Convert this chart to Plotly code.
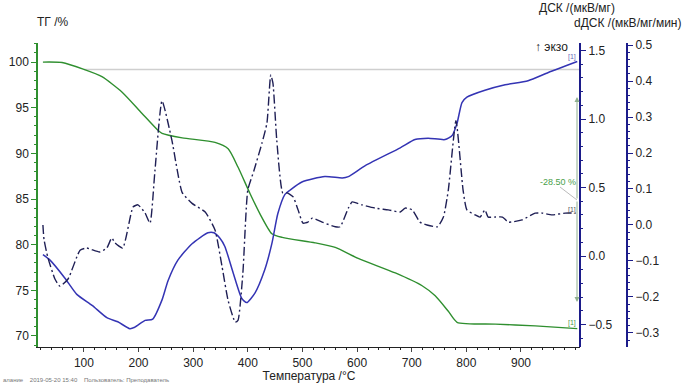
import plotly.graph_objects as go

# ---- data ----
tg_T = [25, 60, 100, 133, 170, 206, 236, 243, 280, 340, 364, 382, 404, 422, 444, 463, 523, 560, 602, 670, 719, 743, 767, 783, 853, 926, 1003]
tg_V = [100.0, 99.95, 99.2, 98.4, 96.7, 94.4, 92.5, 92.2, 91.7, 91.2, 90.5, 88.5, 85.6, 83.4, 81.2, 80.8, 80.2, 79.7, 78.5, 76.9, 75.5, 74.4, 72.7, 71.5, 71.3, 71.1, 70.8]

dsc_T = [25, 38, 65, 87, 115, 142, 162, 184, 193, 212, 226, 243, 254, 272, 298, 327, 338, 349, 358, 373, 389, 398, 413, 431, 444, 455, 468, 477, 499, 541, 573, 584, 615, 679, 706, 730, 761, 774, 783, 792, 801, 834, 871, 913, 950, 1003]
dsc_V = [0.01, -0.03, -0.16, -0.28, -0.36, -0.45, -0.48, -0.53, -0.52, -0.47, -0.46, -0.32, -0.18, -0.03, 0.09, 0.17, 0.17, 0.13, 0.07, -0.12, -0.31, -0.34, -0.27, -0.10, 0.09, 0.31, 0.45, 0.48, 0.54, 0.58, 0.57, 0.58, 0.66, 0.79, 0.85, 0.86, 0.85, 0.88, 0.97, 1.12, 1.16, 1.21, 1.25, 1.28, 1.34, 1.42]

ddsc_T = [25, 27, 34, 47, 56, 71, 93, 105, 129, 142, 151, 157, 171, 190, 199, 212, 221, 230, 243, 261, 280, 298, 322, 340, 353, 364, 377, 382, 391, 400, 411, 426, 435, 442, 446, 453, 464, 472, 483, 492, 501, 510, 518, 536, 560, 569, 584, 591, 609, 633, 657, 679, 688, 701, 715, 728, 747, 758, 767, 781, 794, 801, 816, 825, 834, 840, 853, 866, 877, 902, 926, 939, 957, 981, 1000]
ddsc_V = [0.0, -0.04, -0.09, -0.15, -0.17, -0.15, -0.07, -0.064, -0.075, -0.064, -0.036, -0.05, -0.064, 0.05, 0.056, 0.033, 0.005, 0.15, 0.345, 0.236, 0.09, 0.06, 0.036, -0.014, -0.117, -0.21, -0.27, -0.265, -0.133, 0.097, 0.15, 0.228, 0.283, 0.417, 0.394, 0.236, 0.089, 0.089, 0.078, 0.042, 0.005, 0.008, 0.019, 0.008, -0.005, -0.005, 0.047, 0.064, 0.056, 0.047, 0.042, 0.036, 0.047, 0.042, 0.008, 0.0, -0.005, 0.022, 0.097, 0.29, 0.097, 0.042, 0.028, 0.022, 0.042, 0.022, 0.022, 0.022, 0.008, 0.014, 0.033, 0.033, 0.028, 0.033, 0.033]

x_ticks = [100, 200, 300, 400, 500, 600, 700, 800, 900]
tg_ticks = [70, 75, 80, 85, 90, 95, 100]
dsc_ticks = [-0.5, 0.0, 0.5, 1.0, 1.5]
ddsc_ticks = [-0.3, -0.2, -0.1, 0.0, 0.1, 0.2, 0.3, 0.4, 0.5]

ref_T = [100, 1008]
ref_V = [99.2, 99.2]
mass_change = "-28.50 %"

# ---- geometry ----
W, H = 685, 391
L, R_OUT, T_TOP, B = 38, 627, 43, 347
XR = 580
pw, ph = R_OUT - L, B - T_TOP
dom = (XR - L) / pw

def px(xp):
    return (xp - L) / pw

def py(yp):
    return (B - yp) / ph

GREEN = "#2f8f2f"
BLUE = "#3434b4"
NAVY = "#1f1f55"
AXBLUE = "#1c1c8a"
FONT = "Liberation Sans, Arial, sans-serif"

fig = go.Figure()

fig.add_trace(go.Scatter(x=ref_T, y=ref_V, mode="lines", line=dict(color="#cfcfcf", width=1.5),
                         xaxis="x", yaxis="y", hoverinfo="skip"))
fig.add_trace(go.Scatter(x=tg_T, y=tg_V, mode="lines", line=dict(color=GREEN, width=1.4, shape="spline", smoothing=0.6),
                         xaxis="x", yaxis="y", name="TG"))
fig.add_trace(go.Scatter(x=dsc_T, y=dsc_V, mode="lines", line=dict(color=BLUE, width=1.5, shape="spline", smoothing=0.6),
                         xaxis="x", yaxis="y2", name="DSC"))
fig.add_trace(go.Scatter(x=ddsc_T, y=ddsc_V, mode="lines",
                         line=dict(color=NAVY, width=1.4, dash="9px,3px,2px,3px", shape="spline", smoothing=0.5),
                         xaxis="x", yaxis="y3", name="dDSC"))

fig.update_layout(
    width=W, height=H,
    margin=dict(l=L, r=W - R_OUT, t=T_TOP, b=H - B, autoexpand=False),
    paper_bgcolor="white", plot_bgcolor="white",
    showlegend=False,
    font=dict(family=FONT, size=12, color="#222"),
    xaxis=dict(domain=[0, dom], range=[16, 1008], tickvals=x_ticks, ticks="outside", ticklen=4,
               automargin=False,
               showline=True, linecolor="#222", linewidth=1.2, showgrid=False, zeroline=False,
               minor=dict(dtick=20, ticks="outside", ticklen=2, tickcolor="#222"),
               title=dict(text="Температура /°C", font=dict(size=12), standoff=0),
               tickfont=dict(size=12)),
    yaxis=dict(range=[68.79, 102.09], tickvals=tg_ticks, ticks="outside", ticklen=5, automargin=False,
               showline=True, linecolor=GREEN, linewidth=1.5, tickcolor=GREEN, showgrid=False, zeroline=False,
               minor=dict(dtick=1, ticks="outside", ticklen=2, tickcolor=GREEN),
               tickfont=dict(size=12)),
    yaxis2=dict(range=[-0.664, 1.555], tickvals=dsc_ticks, tickformat=".1f", overlaying="y", side="right",
                anchor="free", position=dom, ticks="outside", ticklen=5, automargin=False,
                showline=True, linecolor=AXBLUE, linewidth=2, tickcolor=AXBLUE, showgrid=False, zeroline=False,
                minor=dict(dtick=0.1, ticks="outside", ticklen=2, tickcolor=AXBLUE),
                tickfont=dict(size=12)),
    yaxis3=dict(range=[-0.339, 0.5056], tickvals=ddsc_ticks, tickformat=".1f", overlaying="y", side="right",
                anchor="free", position=1.0, ticks="outside", ticklen=5, automargin=False,
                showline=True, linecolor=AXBLUE, linewidth=2, tickcolor=AXBLUE, showgrid=False, zeroline=False,
                minor=dict(dtick=0.02, ticks="outside", ticklen=2, tickcolor=AXBLUE),
                tickfont=dict(size=12)),
)

ann = []
def text(xp, yp, s, size=12, color="#222", xanchor="left"):
    ann.append(dict(x=px(xp), y=py(yp), xref="paper", yref="paper", text=s, showarrow=False,
                    xanchor=xanchor, yanchor="middle", font=dict(size=size, color=color, family=FONT)))

text(35, 22, "ТГ /%")
text(537, 8, "ДСК /(мкВ/мг)")
text(684, 23, "dДСК /(мкВ/мг/мин)", xanchor="right")
text(570, 47, "↑ экзо", xanchor="right")
text(578, 182, mass_change, size=9, color="#4aa04a", xanchor="right")
text(578, 57, "[1]", size=7, color="#6a6ab8", xanchor="right")
text(578, 210, "[1]", size=7, color="#555", xanchor="right")
text(578, 323, "[1]", size=7, color="#4a9a4a", xanchor="right")
text(1, 380, "алание    2019-05-20 15:40    Пользователь: Преподаватель", size=6, color="#777")

# mass change arrows (tail offsets in pixels)
for y_head, y_tail in [(97, 200), (302, 200)]:
    ann.append(dict(x=px(577), y=py(y_head), xref="paper", yref="paper",
                    ax=0, ay=y_tail - y_head, axref="pixel", ayref="pixel",
                    text="", showarrow=True, arrowhead=2, arrowsize=1,
                    arrowwidth=1, arrowcolor="#8fb08f"))
fig.update_layout(annotations=ann)

fig.add_shape(type="line", xref="paper", yref="paper", x0=px(560), y0=py(187), x1=px(577), y1=py(200),
              line=dict(color="#bbbbbb", width=1))

fig.write_html("out.html", config={"displayModeBar": False},
               post_script="document.body.style.margin='0px';document.body.style.padding='0px';document.body.style.overflow='hidden';")
